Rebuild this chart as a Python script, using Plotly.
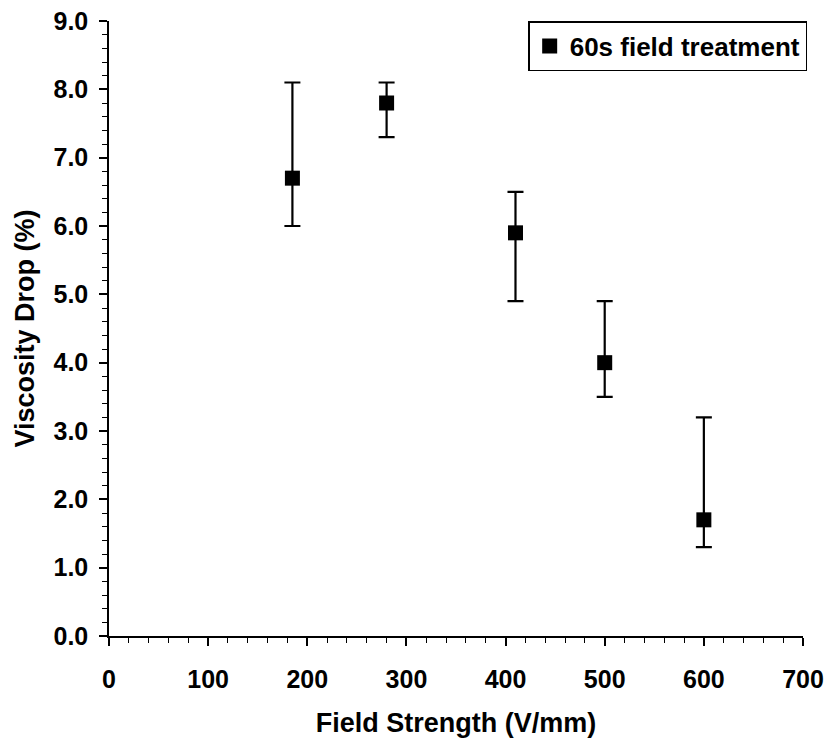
import plotly.graph_objects as go

field_strength = [185, 280, 410, 500, 600]
viscosity_drop = [6.7, 7.8, 5.9, 4.0, 1.7]
upper = [8.1, 8.1, 6.5, 4.9, 3.2]
lower = [6.0, 7.3, 4.9, 3.5, 1.3]

err_plus = [u - v for u, v in zip(upper, viscosity_drop)]
err_minus = [v - l for v, l in zip(viscosity_drop, lower)]

FONT = "Liberation Sans, Arial, sans-serif"
TICK_SIZE = 25
TITLE_SIZE = 27
LEGEND_SIZE = 26
Y_TITLE = "Viscosity Drop (%)"
X_TITLE = "Field Strength (V/mm)"

fig = go.Figure()
fig.add_trace(go.Scatter(
    x=field_strength, y=viscosity_drop, mode="markers",
    name="60s field treatment",
    marker=dict(symbol="square", size=15, color="black"),
    error_y=dict(type="data", array=err_plus, arrayminus=err_minus,
                 color="black", thickness=2.2, width=8),
))

axis_common = dict(
    showgrid=False, zeroline=False, showline=True, linecolor="black", linewidth=1.5,
    ticks="outside", ticklen=8, tickwidth=1.5, tickcolor="black", automargin=False,
    tickfont=dict(family=FONT, size=TICK_SIZE, color="black", weight="bold"),
)

fig.update_layout(
    width=828, height=738,
    margin=dict(l=109, r=25, t=21, b=102),
    paper_bgcolor="white", plot_bgcolor="white",
    showlegend=True,
    legend=dict(x=0.604, y=1.0, xanchor="left", yanchor="top",
                bordercolor="black", borderwidth=1.5, bgcolor="white",
                font=dict(family=FONT, size=LEGEND_SIZE, color="black", weight="bold"),
                itemsizing="trace"),
    xaxis=dict(range=[0, 700], tickvals=[0, 100, 200, 300, 400, 500, 600, 700],
               ticklabelstandoff=12,
               minor=dict(dtick=20, ticks="outside", ticklen=5, tickwidth=1, tickcolor="black"),
               title=dict(text=X_TITLE, standoff=22,
                          font=dict(family=FONT, size=TITLE_SIZE, color="black", weight="bold")),
               **axis_common),
    yaxis=dict(range=[0, 9], tickvals=list(range(0, 10)), tickformat=".1f",
               ticklabelstandoff=6,
               minor=dict(dtick=0.2, ticks="outside", ticklen=5, tickwidth=1, tickcolor="black"),
               **axis_common),
    annotations=[dict(text=Y_TITLE, textangle=-90, xref="paper", yref="paper",
                      x=(24 - 109) / 694, y=0.5, xanchor="center", yanchor="middle",
                      showarrow=False,
                      font=dict(family=FONT, size=TITLE_SIZE, color="black", weight="bold"))],
)

fig.write_html("out.html")
